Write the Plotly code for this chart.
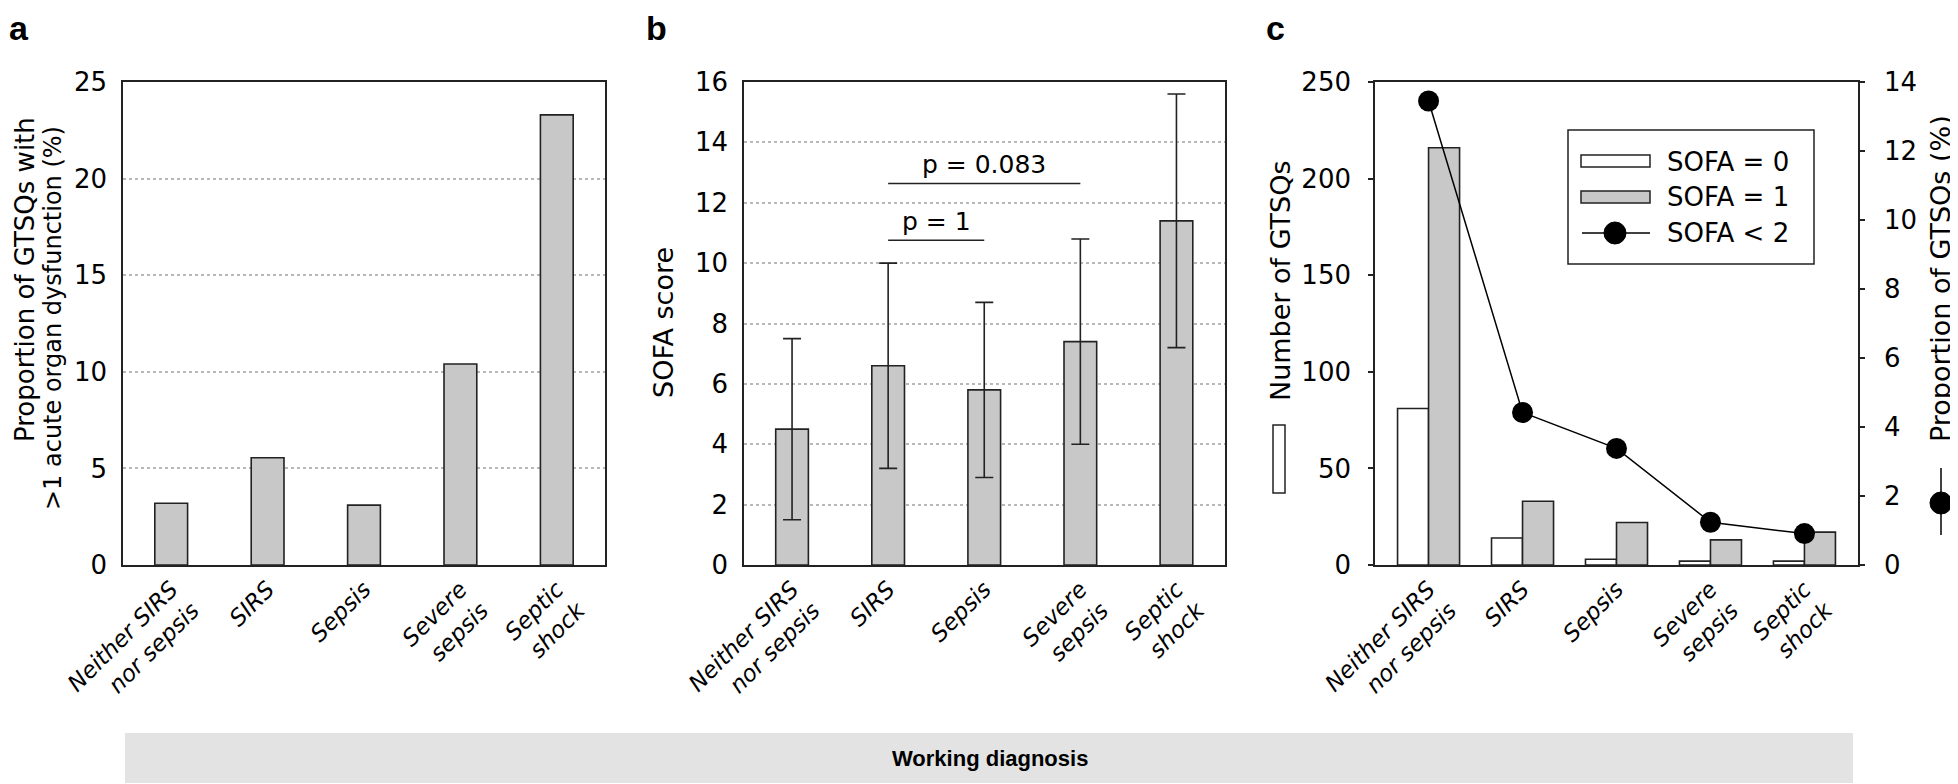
import plotly.graph_objects as go

W, H = 1958, 784
OFF = 8  # page body margin offset of the figure in the browser

categories = ["Neither SIRS nor sepsis", "SIRS", "Sepsis", "Severe sepsis", "Septic shock"]
tick_labels = ["Neither SIRS<br>nor sepsis", "SIRS", "Sepsis", "Severe<br>sepsis", "Septic<br>shock"]

# Panel a
prop_multi_organ = [3.2, 5.55, 3.1, 10.4, 23.3]
# Panel b
sofa_mean = [4.5, 6.6, 5.8, 7.4, 11.4]
sofa_sd = [3.0, 3.4, 2.9, 3.4, 4.2]
comparisons = [  # label, from index, to index, bracket height
    ("p = 1", 1, 2, 10.76),
    ("p = 0.083", 1, 3, 12.64),
]
# Panel c
n_sofa0 = [81, 14, 3, 2, 2]
n_sofa1 = [216, 33, 22, 13, 17]
prop_sofa_lt2 = [13.45, 4.42, 3.38, 1.24, 0.91]

FONT = "DejaVu Sans, Liberation Sans, Arial, sans-serif"
BFONT = "Liberation Sans, Arial, sans-serif"
GRAY = "#c8c8c8"
LINE = "#222222"
TICK = 26


def px(x):
    return (x - OFF) / W


def py(y):
    return 1 - (y - OFF) / H


fig = go.Figure()

fig.add_trace(go.Bar(x=categories, y=prop_multi_organ, width=0.34,
                     marker=dict(color=GRAY, line=dict(color=LINE, width=1.6)),
                     xaxis="x", yaxis="y", showlegend=False))

fig.add_trace(go.Bar(x=categories, y=sofa_mean, width=0.34,
                     marker=dict(color=GRAY, line=dict(color=LINE, width=1.6)),
                     error_y=dict(type="data", array=sofa_sd, visible=True,
                                  color=LINE, thickness=1.6, width=9),
                     xaxis="x2", yaxis="y2", showlegend=False))

fig.add_trace(go.Bar(x=categories, y=n_sofa0, width=0.33, offset=-0.33,
                     marker=dict(color="white", line=dict(color=LINE, width=1.6)),
                     xaxis="x3", yaxis="y3", name="SOFA = 0", showlegend=False))
fig.add_trace(go.Bar(x=categories, y=n_sofa1, width=0.33, offset=0,
                     marker=dict(color=GRAY, line=dict(color=LINE, width=1.6)),
                     xaxis="x3", yaxis="y3", name="SOFA = 1", showlegend=False))
fig.add_trace(go.Scatter(x=categories, y=prop_sofa_lt2, mode="lines+markers",
                         line=dict(color="black", width=1.5),
                         marker=dict(color="black", size=21),
                         xaxis="x3", yaxis="y4", name="SOFA < 2", showlegend=False))

ydom = [py(565), py(82)]

xcommon = dict(type="category", categoryorder="array", categoryarray=categories,
               tickvals=categories, ticktext=tick_labels, tickangle=-45,
               tickfont=dict(family=FONT, size=23, color="black", style="italic"),
               showline=True, linecolor=LINE, linewidth=1.6, mirror=True,
               ticks="", showgrid=False, zeroline=False, fixedrange=True,
               automargin=False)
ycommon = dict(showline=True, linecolor=LINE, linewidth=1.6, mirror=True,
               tickfont=dict(family=FONT, size=TICK, color="black"),
               zeroline=False, domain=ydom, fixedrange=True, automargin=False)
grid = dict(showgrid=True, gridcolor="#b8b8b8", griddash="dot", gridwidth=1.5)

layout = dict(
    width=W, height=H, margin=dict(l=0, r=0, t=0, b=0, pad=0, autoexpand=False),
    paper_bgcolor="white", plot_bgcolor="white",
    barmode="overlay", showlegend=False,
    font=dict(family=FONT, color="black"),
    xaxis=dict(xcommon, domain=[px(123), px(605)], range=[-0.5, 4.5], anchor="y"),
    yaxis=dict(ycommon, range=[0, 25], dtick=5, anchor="x", ticks="",
               ticklabelstandoff=9, **grid),
    xaxis2=dict(xcommon, domain=[px(744), px(1224.5)], range=[-0.5, 4.5], anchor="y2"),
    yaxis2=dict(ycommon, range=[0, 16], dtick=2, anchor="x2", ticks="",
                ticklabelstandoff=9, **grid),
    xaxis3=dict(xcommon, domain=[px(1375), px(1858)], range=[-0.57, 4.57], anchor="y3"),
    yaxis3=dict(ycommon, range=[0, 250], dtick=50, anchor="x3", ticks="outside",
                ticklen=5, tickcolor=LINE, tickwidth=1.6, ticklabelstandoff=12,
                mirror=False, showgrid=False),
    yaxis4=dict(ycommon, range=[0, 14], dtick=2, anchor="x3", overlaying="y3",
                side="right", ticks="outside", ticklen=5, tickcolor=LINE,
                tickwidth=1.6, ticklabelstandoff=14, mirror=False, showgrid=False),
)
fig.update_layout(**layout)

shapes = []
annotations = []

# p-value brackets in panel b
for label, i0, i1, yv in comparisons:
    shapes.append(dict(type="line", xref="x2", yref="y2", x0=i0, x1=i1, y0=yv, y1=yv,
                       line=dict(color=LINE, width=1.5)))
    annotations.append(dict(xref="x2", yref="y2", x=(i0 + i1) / 2, y=yv, text=label,
                            showarrow=False, yanchor="bottom", yshift=2,
                            font=dict(family=FONT, size=25, color="black")))


def vtitle(text, x, y, size=27):
    annotations.append(dict(xref="paper", yref="paper", x=px(x), y=py(y), text=text,
                            textangle=-90, showarrow=False, xanchor="center",
                            yanchor="middle", font=dict(family=FONT, size=size, color="black")))


vtitle("Proportion of GTSQs with", 25, 280, 26)
vtitle("&gt;1 acute organ dysfunction (%)", 53, 318, 24)
vtitle("SOFA score", 663, 323)
vtitle("Number of GTSQs", 1280, 281)
vtitle("Proportion of GTSQs (%)", 1940, 279)

# symbols next to axis titles in panel c
shapes.append(dict(type="rect", xref="paper", yref="paper", x0=px(1273), x1=px(1285),
                   y0=py(493), y1=py(425), fillcolor="white", line=dict(color=LINE, width=1.5)))
shapes.append(dict(type="line", xref="paper", yref="paper", x0=px(1941), x1=px(1941),
                   y0=py(535), y1=py(468), line=dict(color="black", width=1.5)))
shapes.append(dict(type="circle", xref="paper", yref="paper", x0=px(1930), x1=px(1952),
                   y0=py(514), y1=py(492), fillcolor="black", line=dict(color="black", width=1)))

# custom legend in panel c
shapes.append(dict(type="rect", xref="paper", yref="paper", x0=px(1568), x1=px(1814),
                   y0=py(264), y1=py(130), fillcolor="white", line=dict(color=LINE, width=1.5)))
shapes.append(dict(type="rect", xref="paper", yref="paper", x0=px(1581), x1=px(1650),
                   y0=py(167), y1=py(155), fillcolor="white", line=dict(color=LINE, width=1.5)))
shapes.append(dict(type="rect", xref="paper", yref="paper", x0=px(1581), x1=px(1650),
                   y0=py(203), y1=py(191), fillcolor=GRAY, line=dict(color=LINE, width=1.5)))
shapes.append(dict(type="line", xref="paper", yref="paper", x0=px(1582), x1=px(1650),
                   y0=py(233), y1=py(233), line=dict(color="black", width=1.5)))
shapes.append(dict(type="circle", xref="paper", yref="paper", x0=px(1604), x1=px(1626),
                   y0=py(244), y1=py(222), fillcolor="black", line=dict(color="black", width=1)))
for txt, yy in [("SOFA = 0", 162), ("SOFA = 1", 197), ("SOFA &lt; 2", 233)]:
    annotations.append(dict(xref="paper", yref="paper", x=px(1665), y=py(yy), text=txt,
                            showarrow=False, xanchor="left", yanchor="middle",
                            font=dict(family=FONT, size=26, color="black")))

# panel letters
for letter, x in [("a", 8), ("b", 645), ("c", 1265)]:
    annotations.append(dict(xref="paper", yref="paper", x=px(x), y=py(OFF), text=f"<b>{letter}</b>",
                            showarrow=False, xanchor="left", yanchor="top", borderpad=0,
                            font=dict(family=BFONT, size=34, color="black")))

# shared x title band
shapes.append(dict(type="rect", xref="paper", yref="paper", x0=px(125), x1=px(1853),
                   y0=py(783), y1=py(733), fillcolor="#e3e3e3", line=dict(width=0),
                   layer="below"))
annotations.append(dict(xref="paper", yref="paper", x=px(990), y=py(758),
                        text="<b>Working diagnosis</b>", showarrow=False,
                        xanchor="center", yanchor="middle",
                        font=dict(family=BFONT, size=22, color="black")))

fig.update_layout(shapes=shapes, annotations=annotations)
fig.write_html("out.html")
